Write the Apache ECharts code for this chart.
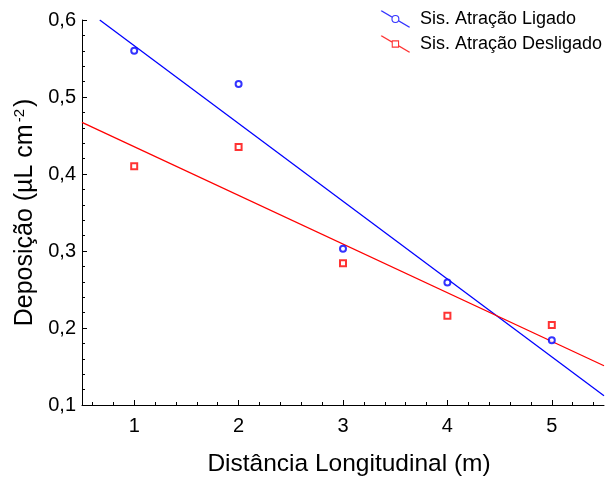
<!DOCTYPE html>
<html><head><meta charset="utf-8">
<script src="https://cdn.jsdelivr.net/npm/echarts@6/dist/echarts.min.js"></script>
<style>html,body{margin:0;padding:0;background:#fff}#c{width:608px;height:478px}</style>
</head><body><div id="c"></div>
<script>
// Data
const xValues = [1, 2, 3, 4, 5];
const ligado = [0.560, 0.517, 0.303, 0.259, 0.184];
const desligado = [0.410, 0.435, 0.284, 0.216, 0.204];
// fitted lines (endpoints)
const ligadoFitX = [0.67, 5.5];
const ligadoFitY = [0.600, 0.112];
const desligadoFitX = [0.5, 5.5];
const desligadoFitY = [0.467, 0.151];
// tick labels
const xTickValues = [1, 2, 3, 4, 5];
const xMinorTickValues = [0.6, 0.8, 1.2, 1.4, 1.6, 1.8, 2.2, 2.4, 2.6, 2.8, 3.2, 3.4, 3.6, 3.8, 4.2, 4.4, 4.6, 4.8, 5.2, 5.4];
const seriesNames = ['Sis. Atração Ligado', 'Sis. Atração Desligado'];

const FONT = '"Liberation Sans", Arial, Helvetica, sans-serif';
const BLUE = '#0000ff', RED = '#ff0000';

const iconCircle = 'path://M0,0 L1.2,0 L11,5.75 L11,7.15 L0,0.7 Z M18,9.85 L29,16.3 L29,17 L27.8,17 L18,11.25 Z M10.5,8.5 A4,4 0 1 1 18.5,8.5 A4,4 0 1 1 10.5,8.5 Z M11.6,8.5 A2.9,2.9 0 1 0 17.4,8.5 A2.9,2.9 0 1 0 11.6,8.5 Z';
const iconSquare = 'path://M0,0 L1.2,0 L11,5.75 L11,7.15 L0,0.7 Z M18,9.85 L29,16.3 L29,17 L27.8,17 L18,11.25 Z M10.8,4.8 L18.2,4.8 L18.2,12.2 L10.8,12.2 Z M11.9,5.9 L11.9,11.1 L17.1,11.1 L17.1,5.9 Z';

const zip = (xs, ys) => xs.map((x, i) => [x, ys[i]]);

const chart = echarts.init(document.getElementById('c'), null, {renderer: 'canvas'});
chart.setOption({
  animation: false,
  backgroundColor: '#fff',
  textStyle: {fontFamily: FONT, color: '#000'},
  grid: {left: 82, right: 4, top: 20, bottom: 73, containLabel: false, outerBoundsMode: 'none'},
  legend: {
    orient: 'vertical', right: 1, top: 5,
    itemWidth: 29, itemHeight: 17, itemGap: 7,
    textStyle: {fontFamily: FONT, fontSize: 18, color: '#000', padding: [0, 0, 0, 5]},
    itemStyle: {borderWidth: 0},
    data: [
      {name: seriesNames[0], icon: iconCircle, itemStyle: {color: BLUE, borderWidth: 0}},
      {name: seriesNames[1], icon: iconSquare, itemStyle: {color: RED, borderWidth: 0}}
    ]
  },
  xAxis: [{
    type: 'value', min: 0.5, max: 5.5,
    name: 'Distância Longitudinal (m)', nameLocation: 'middle', nameGap: 47,
    nameTextStyle: {fontFamily: FONT, fontSize: 24.5, color: '#000', padding: [0, 0, 0, 12]},
    axisLine: {show: true, lineStyle: {color: '#000', width: 1}},
    axisTick: {show: true, inside: true, length: 5, customValues: xTickValues, lineStyle: {color: '#000'}},
    axisLabel: {customValues: xTickValues, fontFamily: FONT, fontSize: 20, color: '#000', margin: 11},
    splitLine: {show: false}
  }, {
    type: 'value', min: 0.5, max: 5.5, position: 'bottom',
    axisLine: {show: false},
    axisTick: {show: true, inside: true, length: 3, customValues: xMinorTickValues, lineStyle: {color: '#000'}},
    axisLabel: {show: false},
    splitLine: {show: false}
  }],
  yAxis: {
    type: 'value', min: 0.1, max: 0.6, interval: 0.1,
    name: '{a|Deposição (µL cm}{s|-2}{a|)}', nameLocation: 'middle', nameGap: 39,
    nameTextStyle: {
      fontFamily: FONT, fontSize: 25, color: '#000',
      rich: {
        a: {fontFamily: FONT, fontSize: 25, color: '#000'},
        s: {fontFamily: FONT, fontSize: 15, color: '#000', verticalAlign: 'top', padding: [0, 2, 0, 2]}
      }
    },
    axisLine: {show: true, lineStyle: {color: '#000', width: 1}},
    axisTick: {show: true, inside: true, length: 5, lineStyle: {color: '#000'}},
    minorTick: {show: true, splitNumber: 5, length: 3, lineStyle: {color: '#000'}},
    axisLabel: {fontFamily: FONT, fontSize: 20, color: '#000', margin: 6,
      formatter: v => v.toFixed(1).replace('.', ',')},
    splitLine: {show: false}, minorSplitLine: {show: false}
  },
  series: [
    {name: seriesNames[0], type: 'scatter', data: zip(xValues, ligado), symbol: 'emptyCircle', symbolSize: 6,
      itemStyle: {color: BLUE, borderColor: BLUE, borderWidth: 0.8}, z: 3},
    {name: seriesNames[1], type: 'scatter', data: zip(xValues, desligado), symbol: 'emptyRect', symbolSize: 6,
      itemStyle: {color: RED, borderColor: RED, borderWidth: 0.8}, z: 3},
    {name: seriesNames[0], type: 'line', data: zip(ligadoFitX, ligadoFitY), showSymbol: false, symbol: 'none',
      lineStyle: {color: BLUE, width: 1.3}, itemStyle: {color: BLUE}, z: 2},
    {name: seriesNames[1], type: 'line', data: zip(desligadoFitX, desligadoFitY), showSymbol: false, symbol: 'none',
      lineStyle: {color: RED, width: 1.3}, itemStyle: {color: RED}, z: 2}
  ]
});
</script>
</body></html>
